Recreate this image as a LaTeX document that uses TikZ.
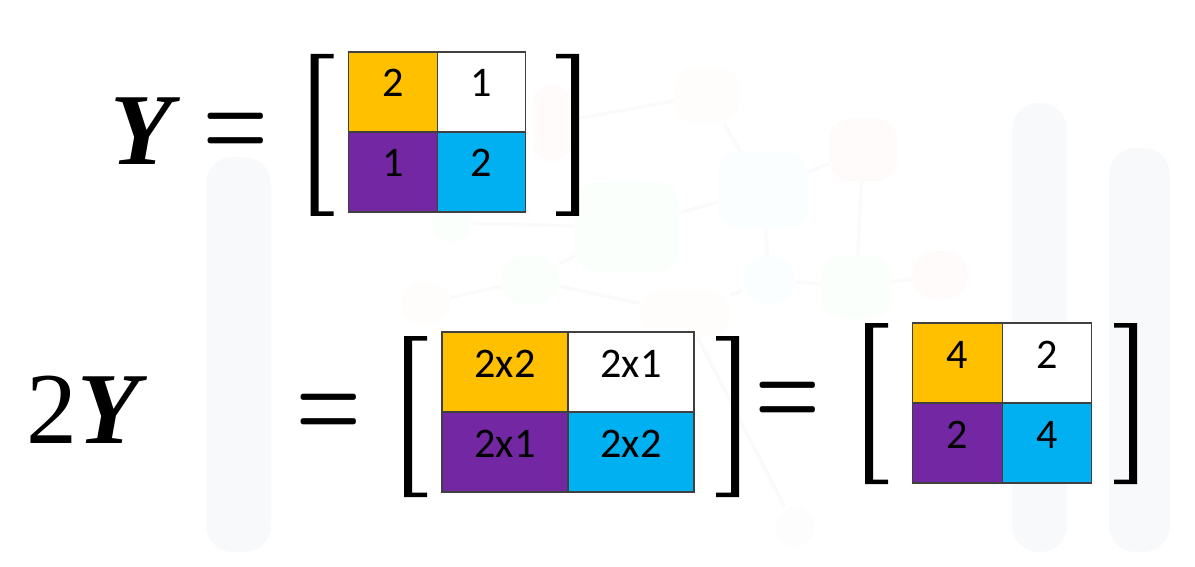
\RequirePackage{fix-cm}
\documentclass[tikz,border=0pt]{standalone}
\usepackage[no-math]{fontspec}
\setmainfont{Carlito}
\newfontfamily\serifY{Liberation Serif}
\usepackage{tikz}
\usetikzlibrary{calc,positioning}
\definecolor{cOrange}{HTML}{FFC000}
\definecolor{cPurple}{HTML}{7327A3}
\definecolor{cBlue}{HTML}{00B0F0}
\definecolor{wmGray}{HTML}{F8F9FB}

\begin{document}
\begin{tikzpicture}[x=0.02cm,y=-0.02cm,
  cell/.style={draw=black!75, line width=0.7pt, minimum width=#1, minimum height=1.6cm, inner sep=0pt, text height=0.54cm, text depth=0.34cm, font=\fontsize{24}{24}\selectfont},
  eq/.style={inner sep=0pt, font=\fontsize{42}{42}\selectfont\boldmath},
  lhs/.style={inner sep=0pt, font=\serifY\fontsize{58}{58}\selectfont},
  blob/.style={rounded corners=12pt, inner sep=0pt}]
\useasboundingbox (0,0) rectangle (1195,567);
% faint watermark
\fill[wmGray, rounded corners=15pt] (206,157) rectangle (271,552);
\fill[wmGray, rounded corners=15pt] (1012,103) rectangle (1067,552);
\fill[wmGray, rounded corners=15pt] (1109,148) rectangle (1170,552);
\foreach \n/\x/\y/\w/\h/\c in {w1/707/95/65/57/orange, w2/863/150/68/63/red, w3/763/190/90/77/cyan, w4/627/227/104/90/green, w5/552/123/40/77/red, w6/530/280/58/47/green, w7/426/303/49/43/orange, w8/769/280/52/47/cyan, w9/856/287/71/63/green, w10/940/275/55/48/red, w11/685/313/90/47/orange, w12/795/527/40/40/gray, w13/452/223/40/40/green}
  {\node[blob, fill=\c!1.5, minimum width=\w*0.02cm, minimum height=\h*0.02cm] (\n) at (\x,\y) {};}
\foreach \i/\j in {w1/w3,w1/w5,w3/w2,w3/w4,w4/w6,w4/w13,w6/w7,w6/w11,w3/w8,w8/w9,w9/w10,w2/w9,w11/w8,w11/w12}
  {\draw[gray!4, line width=2pt] (\i) -- (\j);}
% left hand sides
\node[lhs] (y1) at (142,131) {\bfseries\itshape Y};
\node[lhs] (y2) at (83,410) {2{\bfseries\itshape Y}};
\node[eq] (eq1) at (235.5,135) {\scalebox{1}[1.52]{$=$}};
\node[eq] (eq2) at (329,416) {\scalebox{1}[1.52]{$=$}};
\node[eq] (eq3) at (788,404) {\scalebox{1}[1.52]{$=$}};
% cells
\foreach \n/\x/\y/\w/\c/\t in {a11/393/92/1.77cm/cOrange/2, a12/481.5/92/1.77cm/white/1, a21/393/172/1.77cm/cPurple/1, a22/481.5/172/1.77cm/cBlue/2,
  b11/505/372/2.52cm/cOrange/2x2, b12/631/372/2.52cm/white/2x1, b21/505/452/2.52cm/cPurple/2x1, b22/631/452/2.52cm/cBlue/2x2,
  c11/957.5/363/1.79cm/cOrange/4, c12/1047/363/1.79cm/white/2, c21/957.5/443/1.79cm/cPurple/2, c22/1047/443/1.79cm/cBlue/4}
  {\node[cell=\w, fill=\c] (\n) at (\x,\y) {\t};}
% brackets
\foreach \x/\t/\b/\d in {310.7/54/216/1, 579/54/216/-1, 404/336/497/1, 739/336/497/-1, 865/323/484/1, 1137/323/484/-1}
  {\fill (\x,\t) -- ++({23*\d},0) -- ++(0,4.5) -- ++({-15*\d},0) -- ({\x+8*\d},{\b-4.5}) -- ++({15*\d},0) -- ++(0,4.5) -- (\x,\b) -- cycle;}
\end{tikzpicture}
\end{document}
